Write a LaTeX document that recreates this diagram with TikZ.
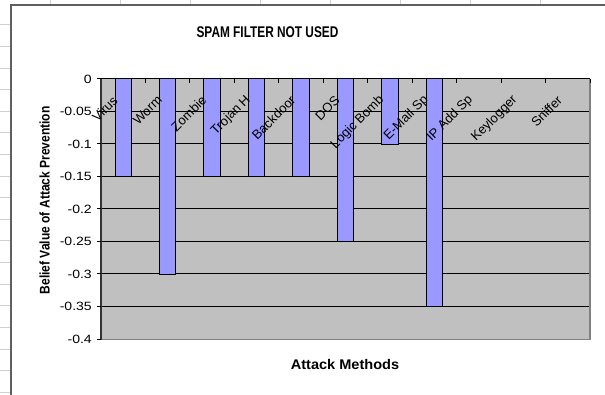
\documentclass[tikz,border=0pt]{standalone}
\usepackage{fontspec}
\setmainfont{Liberation Sans}
\usepackage{graphicx}
\definecolor{plotbg}{HTML}{C0C0C0}
\definecolor{barfill}{HTML}{9999FF}
\definecolor{sheetgrid}{HTML}{D0D0D0}
\definecolor{chartframe}{HTML}{5F5F5F}
\definecolor{plotframe}{HTML}{808080}
\tikzset{
  gridline/.style={black, line width=1pt},
  barbox/.style={draw=black, fill=barfill, line width=1pt},
  ticklab/.style={anchor=east, inner sep=0pt, font=\fontsize{12}{12}\selectfont},
  catlab/.style={anchor=east, inner sep=0pt, rotate=45, font=\fontsize{13}{13}\selectfont},
  charttitle/.style={inner sep=0pt, font=\bfseries\fontsize{15.5}{16}\selectfont},
  axistitle/.style={inner sep=0pt, font=\bfseries\fontsize{14}{14}\selectfont},
}
\begin{document}
\begin{tikzpicture}[x=1pt,y=-1pt]
\useasboundingbox (0,0) rectangle (605,395);
% spreadsheet grid behind the chart
\foreach \k in {0,...,17} \draw[sheetgrid, line width=1pt] (0,25+21.6*\k) -- (11,25+21.6*\k);
\foreach \xx in {50,120,...,540} \draw[sheetgrid, line width=1pt] (\xx,0) -- (\xx,5);
% chart frame
\draw[chartframe, line width=1.6pt] (11,396) -- (11,5) -- (606,5);
% plot area
\fill[plotbg] (101,79) rectangle (590,339);
\foreach \k in {1,...,7} \draw[gridline] (101,79+32.5*\k) -- (590,79+32.5*\k);
\draw[plotframe, line width=1.6pt] (590,79) -- (590,339.5) -- (101,339.5);
% bars
\foreach \v [count=\i] in {-0.15,-0.3,-0.15,-0.15,-0.15,-0.25,-0.1,-0.35} {
  \pgfmathsetmacro\cx{101+(\i-0.5)*44.4545}
  \pgfmathsetmacro\yb{79-650*\v}
  \draw[barbox] (\cx-8.2,79) rectangle (\cx+8.2,\yb);
}
% category axis (at 0) with ticks
\draw[black, line width=1pt] (101,79) -- (590,79);
\foreach \k in {1,...,11} {
  \pgfmathsetmacro\tx{101+\k*44.4545}
  \draw[black, line width=1pt] (\tx,79) -- (\tx,83);
}
% value axis
\draw[black!80, line width=1.2pt] (101,79) -- (101,339.5);
\foreach \lab [count=\k from 0] in {0,-0.05,-0.1,-0.15,-0.2,-0.25,-0.3,-0.35,-0.4} {
  \draw[black, line width=1pt] (97,79+32.5*\k) -- (101,79+32.5*\k);
  \node[ticklab] (t\k) at (92,79+32.5*\k) {\scalebox{1.17}[1]{\lab}};
}
% category labels
\foreach \lab [count=\i] in {Virus,Worm,Zombie,Trojan H,Backdoor,DOS,Logic Bomb,E-Mail Sp,IP Add Sp,Keylogger,Sniffer} {
  \pgfmathsetmacro\cx{101+(\i-0.5)*44.4545}
  \node[catlab] (c\i) at (\cx-8,98) {\lab};
}
% titles
\node[charttitle] (title) at (267.5,32) {\scalebox{0.765}[1]{SPAM FILTER NOT USED}};
\node[axistitle] (xtitle) at (345,364) {\scalebox{1.04}[1]{Attack Methods}};
\node[axistitle, rotate=90] (ytitle) at (44.5,200.3) {\scalebox{0.86}[1]{Belief Value of Attack Prevention}};
\end{tikzpicture}
\end{document}
